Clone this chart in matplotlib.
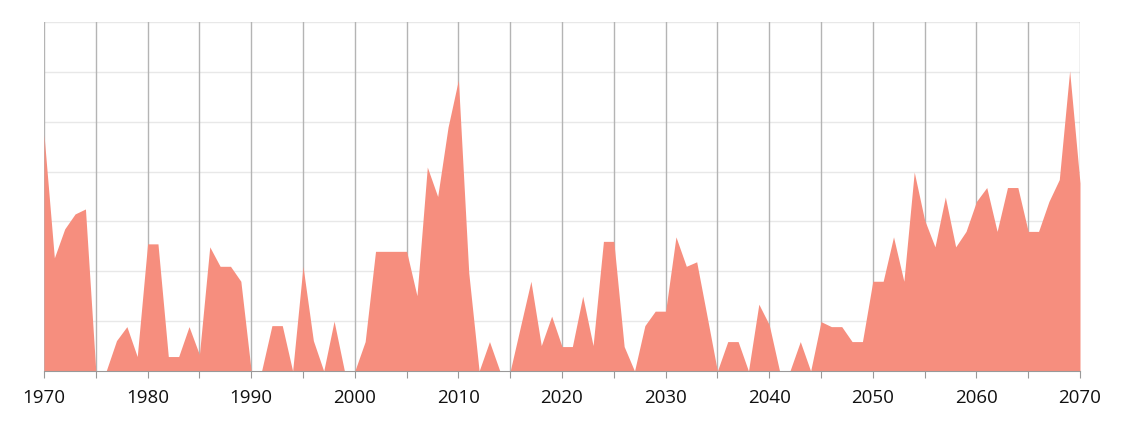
import numpy as np
import matplotlib.pyplot as plt

years = np.arange(1970, 2071)
values = [
    4.74, 2.27, 2.85, 3.15, 3.25, 0.0, 0.0, 0.61, 0.89, 0.29,
    2.55, 2.55, 0.29, 0.29, 0.89, 0.33, 2.49, 2.10, 2.10, 1.80,
    0.0, 0.0, 0.91, 0.91, 0.0, 2.10, 0.61, 0.0, 1.0, 0.0,
    0.0, 0.59, 2.40, 2.40, 2.40, 2.40, 1.51, 4.09, 3.50, 4.89,
    5.84, 1.97, 0.0, 0.59, 0.0, 0.0, 0.90, 1.80, 0.51, 1.10,
    0.49, 0.49, 1.50, 0.51, 2.60, 2.60, 0.49, 0.0, 0.91, 1.20,
    1.20, 2.69, 2.10, 2.19, 1.10, 0.0, 0.59, 0.59, 0.0, 1.34,
    0.93, 0.0, 0.0, 0.59, 0.0, 0.99, 0.89, 0.89, 0.59, 0.59,
    1.80, 1.80, 2.69, 1.80, 3.99, 3.03, 2.49, 3.49, 2.49, 2.80,
    3.40, 3.68, 2.80, 3.68, 3.68, 2.80, 2.80, 3.40, 3.84, 6.02,
    3.77,
]

fig = plt.figure(figsize=(11.24, 4.23), dpi=100)
ax = fig.add_axes([44 / 1124, 52 / 423, 1036 / 1124, 349 / 423])

ax.fill_between(years, values, 0, color='#F68E7E', linewidth=0, zorder=2)

ax.set_xlim(1970, 2070)
ax.set_ylim(0, 7)

# сетка: вертикальные каждые 5 лет, горизонтальные светлые
for x in range(1970, 2071, 5):
    ax.axvline(x, color='#b4b4b4', linewidth=1, zorder=1)
for y in range(1, 8):
    ax.axhline(y, color='#e8e8e8', linewidth=1, zorder=0)

ax.set_xticks(range(1970, 2071, 5))
ax.set_xticklabels([str(x) if x % 10 == 0 else '' for x in range(1970, 2071, 5)],
                   fontsize=13.5, family='Open Sans', color='#111111')
ax.tick_params(axis='x', length=5, color='#999999', pad=8)
ax.set_yticks([])

for s in ['top', 'left', 'right']:
    ax.spines[s].set_visible(False)
ax.spines['bottom'].set_color('#999999')
ax.spines['bottom'].set_zorder(3)

fig.savefig('out.png', dpi=100)
